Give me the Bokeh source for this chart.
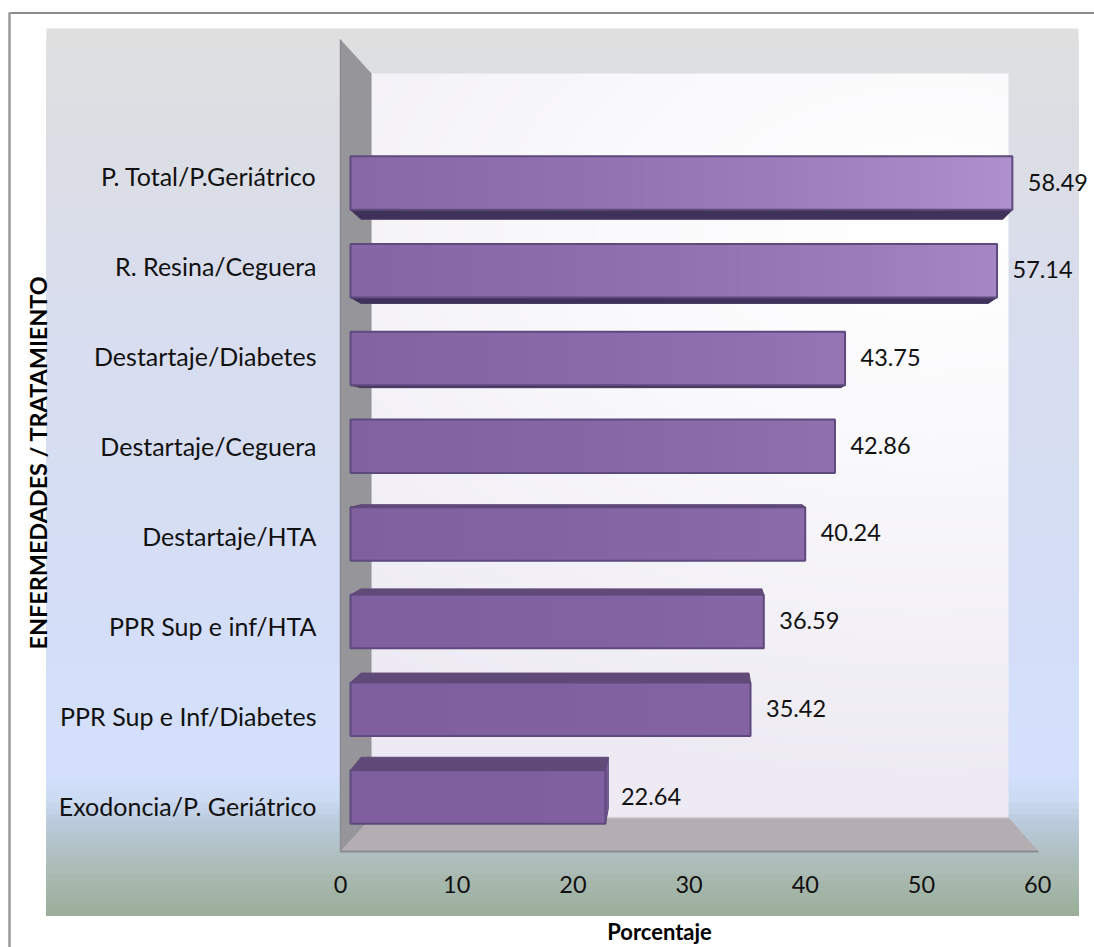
import numpy as np
from bokeh.plotting import figure
from bokeh.embed import file_html
from bokeh.resources import INLINE
from bokeh.models import ColumnDataSource, FixedTicker, Label
from bokeh.core.properties import value

categories = ["P. Total/P.Geriátrico", "R. Resina/Ceguera", "Destartaje/Diabetes", "Destartaje/Ceguera",
              "Destartaje/HTA", "PPR Sup e inf/HTA", "PPR Sup e Inf/Diabetes", "Exodoncia/P. Geriátrico"]
values = [58.49, 57.14, 43.75, 42.86, 40.24, 36.59, 35.42, 22.64]
x_ticks = [0, 10, 20, 30, 40, 50, 60]
x_title = "Porcentaje"
y_title = "ENFERMEDADES / TRATAMIENTO"

FONT = "Lato"
W, H = 1094, 947

# reference picture pixels -> data units
def X(px): return (np.asarray(px, dtype=float) - 340.0) / 11.62
def Y(py): return (805.0 - np.asarray(py, dtype=float)) / 90.0

p = figure(width=W, height=H, output_backend="svg", toolbar_location=None,
           x_range=(float(X(0)), float(X(W))), y_range=(float(Y(H)), float(Y(0))),
           min_border=0, outline_line_color=None, background_fill_color="white", border_fill_color="white")
p.grid.visible = False

def hexrgb(h): return np.array([int(h[i:i + 2], 16) for i in (1, 3, 5)], dtype=float)
def tohex(c): return "#%02x%02x%02x" % tuple(int(round(v)) for v in c)

# page frame (top and left rules)
p.line(X([9, 1094]), Y([12.5, 12.5]), line_color="#8b8b8b", line_width=2)
p.line(X([9, 9]), Y([12, 947]), line_color="#9a9a9a", line_width=2.5)

# chart-area gradient, painted in overlapping bands
stops_y = [28, 320, 775, 800, 820, 850, 880, 915]
stops_c = ["#dfdfdf", "#d8ddee", "#d3dffc", "#ccdaf2", "#bccbdd", "#b1c1c4", "#a8b8ae", "#9aae99"]
arr = np.array([hexrgb(c) for c in stops_c])
bands = np.arange(28, 915, 6.0)
cols = [tohex([np.interp(b + 3, stops_y, arr[:, k]) for k in range(3)]) for b in bands]
p.quad(left=float(X(46)), right=float(X(1078)), top=Y(bands), bottom=float(Y(915)), fill_color=cols, line_color=None)

# back wall
wx0, wx1, wy0, wy1 = 371, 1008, 73, 817
gx, gy = np.meshgrid(np.arange(wx0, wx1, 2.0), np.arange(wy1, wy0, -2.0))
d = np.clip(np.sqrt(((gx - 930) / 900) ** 2 + ((gy - 230) / 560) ** 2), 0, 1) ** 1.3
c0, c1 = np.array([255, 255, 255.]), hexrgb("#edeaf3")
img = np.zeros(gx.shape, dtype=np.uint32)
v8 = img.view(np.uint8).reshape(gx.shape + (4,))
for k in range(3):
    v8[..., k] = (c0[k] + (c1[k] - c0[k]) * d).astype(np.uint8)
v8[..., 3] = 255
p.image_rgba(image=[img], x=float(X(wx0)), y=float(Y(wy1)), dw=float(X(wx1) - X(wx0)), dh=float(Y(wy0) - Y(wy1)))

# side wall and floor
p.patch(X([340, 371, 371, 340]), Y([39, 73, 817, 851]), fill_color="#969599", line_color=None)
p.patch(X([340, 371, 1008, 1038]), Y([851, 817, 817, 851]), fill_color="#b4aeb3", line_color=None)
p.line(X([371, 1008]), Y([817, 817]), line_color="#d6d3d6", line_width=1.5)
p.line(X([339.5, 1038]), Y([851, 851]), line_color="#8e8c90", line_width=2)
p.line(X([340, 340]), Y([39, 851]), line_color="#8e8c90", line_width=1.5)

# pseudo-3D projection of the bars
VX, VY, KX, KY = 700.0, 445.0, 0.03, 0.04
LEFT = 350.0
def front_right(v): return 348.0 + 11.35 * v
n = len(values)
cy = [796.5 - 87.7 * (n - 1 - i) for i in range(n)]
HALF = 26.75
def back_x(x): return x + (VX - x) * KX
def back_y(y): return y + (VY - y) * KY

top_x, top_y, und_x, und_y, side_x, side_y = [], [], [], [], [], []
for v, c in zip(values, cy):
    fr = front_right(v)
    ft, fb = c - HALF, c + HALF
    if back_y(ft) < ft:
        top_x.append(X([LEFT, back_x(LEFT), back_x(fr), fr]))
        top_y.append(Y([ft, back_y(ft), back_y(ft), ft]))
    if back_y(fb) > fb:
        und_x.append(X([LEFT, back_x(LEFT), back_x(fr), fr]))
        und_y.append(Y([fb, back_y(fb), back_y(fb), fb]))
    if back_x(fr) > fr:
        side_x.append(X([fr, back_x(fr), back_x(fr), fr]))
        side_y.append(Y([ft, back_y(ft), back_y(fb), fb]))

p.patches(top_x, top_y, fill_color="#604a78", line_color="#604a78", line_width=1)
p.patches(und_x, und_y, fill_color="#40315a", line_color="#4a3a60", line_width=1)
p.patches(side_x, side_y, fill_color="#7b5e9c", line_color="#5e4a7c", line_width=1)

# front faces: a base bar for each value, a gradient over it, then its outline
src = ColumnDataSource(dict(y=Y(cy), left=[float(X(LEFT))] * n, right=X([front_right(v) for v in values])))
p.hbar(y="y", left="left", right="right", height=2 * HALF / 90.0, source=src, fill_color="#7f5f9e", line_color=None)

dark, light = hexrgb("#7f5f9e"), hexrgb("#ae90cc")
sl, sr, st, sb, sc = [], [], [], [], []
for v, c in zip(values, cy):
    fr = front_right(v)
    for sx in np.arange(LEFT, fr, 6.0):
        s = 0.5 * (sx + 3 - 350) / 662 + 0.5 * (796.5 - c) / 614
        t = s ** 2.4
        sl.append(float(X(sx))); sr.append(float(X(fr)))
        st.append(float(Y(c - HALF))); sb.append(float(Y(c + HALF)))
        sc.append(tohex(dark + (light - dark) * t))
p.quad(left=sl, right=sr, top=st, bottom=sb, fill_color=sc, line_color=None)
p.hbar(y="y", left="left", right="right", height=2 * HALF / 90.0, source=src, fill_color=None,
       line_color="#5e4a7c", line_width=2)

# value labels
p.text(x=X([front_right(v) + 15.5 for v in values]), y=Y([c - 1 for c in cy]), text=["%.2f" % v for v in values],
       text_font=value(FONT), text_font_size="23.5px", text_color="#111111", text_baseline="middle", text_align="left")

# axes, kept inside the frame
xa = p.xaxis[0]
xa.fixed_location = float(Y(851))
xa.ticker = FixedTicker(ticks=x_ticks)
xa.axis_line_color = None
xa.major_tick_line_color = None
xa.minor_tick_line_color = None
xa.major_label_standoff = 18
xa.major_label_text_font = FONT
xa.major_label_text_font_size = "23.5px"
xa.major_label_text_color = "#111111"

ya = p.yaxis[0]
ya.fixed_location = float(X(322))
ya.ticker = FixedTicker(ticks=list(range(n)))
ya.major_label_overrides = {n - 1 - i: c for i, c in enumerate(categories)}
ya.axis_line_color = None
ya.major_tick_line_color = None
ya.minor_tick_line_color = None
ya.major_label_standoff = 0
ya.major_label_text_font = FONT
ya.major_label_text_font_size = "25px"
ya.major_label_text_color = "#111111"

p.add_layout(Label(x=float(X(659)), y=float(Y(931)), text=x_title, text_font=FONT, text_font_style="bold",
                   text_font_size="22px", text_color="#000000", text_align="center", text_baseline="middle"))
p.add_layout(Label(x=float(X(37)), y=float(Y(462)), text=y_title, text_font=FONT, text_font_style="bold",
                   text_font_size="23.4px", text_color="#000000", text_align="center", text_baseline="middle",
                   angle=np.pi / 2))

open("out.html", "w").write(file_html(p, INLINE))
